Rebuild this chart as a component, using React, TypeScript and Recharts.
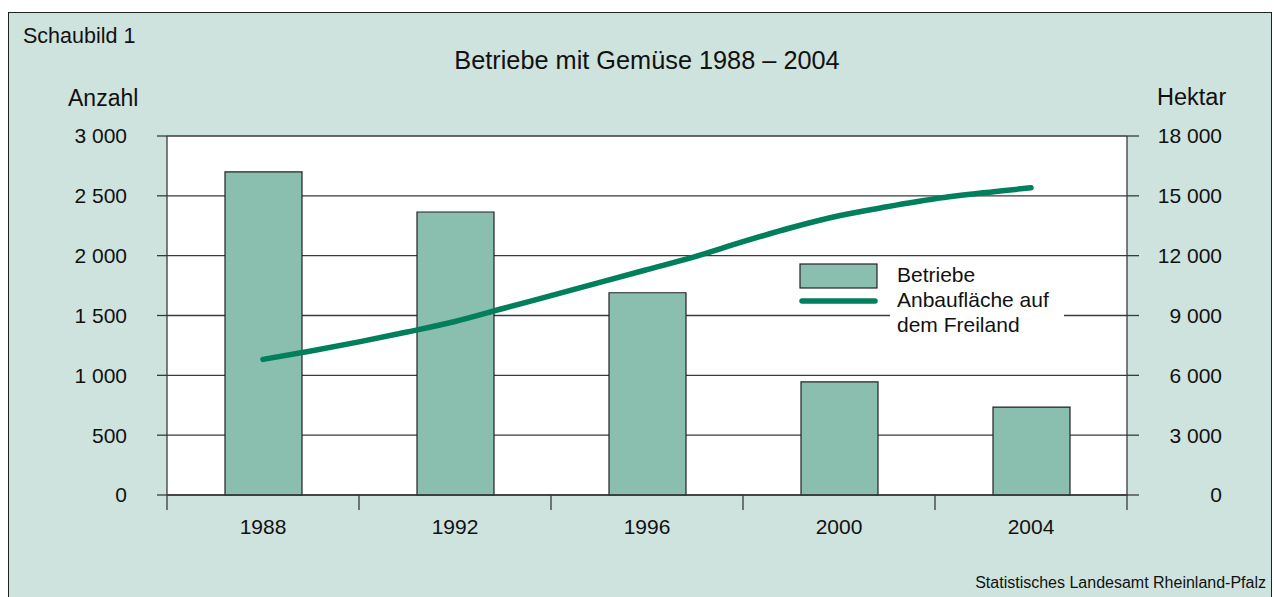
import React from 'react';
import { ComposedChart, Bar, Line, XAxis, YAxis, CartesianGrid } from 'recharts';

const barYears = [1988, 1992, 1996, 2000, 2004];
const betriebe = [2700, 2365, 1690, 945, 735];

const lineYears = [1988, 1989, 1990, 1991, 1992, 1993, 1994, 1995, 1996, 1997, 1998, 1999, 2000, 2001, 2002, 2003, 2004];
const flaeche = [6800, 7220, 7680, 8170, 8700, 9350, 10000, 10650, 11300, 11950, 12700, 13400, 14000, 14450, 14850, 15150, 15400];

const leftTicks = [0, 500, 1000, 1500, 2000, 2500, 3000];
const rightTicks = [0, 3000, 6000, 9000, 12000, 15000, 18000];
const xTicks = [1986, 1988, 1990, 1992, 1994, 1996, 1998, 2000, 2002, 2004, 2006];

const title = 'Betriebe mit Gemüse 1988 – 2004';
const figLabel = 'Schaubild 1';
const leftTitle = 'Anzahl';
const rightTitle = 'Hektar';
const source = 'Statistisches Landesamt Rheinland-Pfalz';
const legendBar = 'Betriebe';
const legendLine = ['Anbaufläche auf', 'dem Freiland'];

const barData = barYears.map((y, i) => ({ year: y, betriebe: betriebe[i] }));
const lineData = lineYears.map((y, i) => ({ year: y, flaeche: flaeche[i] }));

const FONT = '"Liberation Sans", Arial, Helvetica, sans-serif';
const BG = '#cee3dd';
const BAR = '#8abfaf';
const LINE = '#007f5c';
const INK = '#111';
const GRID = '#3a3a3a';

const fmt = (v: number) => String(v).replace(/\B(?=(\d{3})+(?!\d))/g, ' ');

const XTick = (props: any) => {
  const { x, y, payload } = props;
  const v = payload.value as number;
  if ((v - 1986) % 4 === 0) {
    return <line x1={x} x2={x} y1={y} y2={y + 15} stroke={GRID} strokeWidth={1.3} />;
  }
  return (
    <text x={x} y={y + 39} textAnchor="middle" fontSize={21} fill={INK} fontFamily={FONT}>
      {v}
    </text>
  );
};

const RightTick = (props: any) => {
  const { x, y, payload } = props;
  return (
    <text x={x + 83} y={y} dy="0.355em" textAnchor="end" fontSize={21} fill={INK} fontFamily={FONT}>
      {fmt(payload.value)}
    </text>
  );
};

export default function App() {
  return (
    <div style={{ position: 'absolute', left: 0, top: 0, width: 1275, height: 597, overflow: 'hidden' }}>
      <div
        style={{
          position: 'absolute',
          left: 8,
          top: 12,
          width: 1264,
          height: 600,
          background: BG,
          border: '1px solid #222',
          boxSizing: 'border-box',
        }}
      />
      <div style={{ position: 'absolute', left: 0, top: 0 }}>
        <ComposedChart
          width={1275}
          height={597}
          data={barData}
          margin={{ top: 136, right: 88, bottom: 42, left: 107 }}
        >
          <CartesianGrid yAxisId="left" xAxisId="num" vertical={false} horizontal stroke={GRID} strokeWidth={1.3} fill="#ffffff" fillOpacity={1} />
          <XAxis xAxisId="cat" dataKey="year" type="category" hide height={0} />
          <XAxis
            xAxisId="num"
            dataKey="year"
            type="number"
            domain={[1986, 2006]}
            ticks={xTicks}
            interval={0}
            tickSize={0}
            tickMargin={0}
            tickLine={false}
            tick={<XTick />}
            height={60}
            axisLine={{ stroke: GRID, strokeWidth: 1.3 }}
            allowDataOverflow
          />
          <YAxis
            yAxisId="left"
            orientation="left"
            domain={[0, 3000]}
            ticks={leftTicks}
            interval={0}
            width={60}
            tickSize={10}
            tickMargin={30}
            tickFormatter={fmt}
            tick={{ fontSize: 21, fill: INK, fontFamily: FONT }}
            tickLine={{ stroke: GRID, strokeWidth: 1.3 }}
            axisLine={{ stroke: GRID, strokeWidth: 1.3 }}
          />
          <YAxis
            yAxisId="right"
            orientation="right"
            domain={[0, 18000]}
            ticks={rightTicks}
            interval={0}
            width={60}
            tickSize={12}
            tickMargin={0}
            tick={<RightTick />}
            tickLine={{ stroke: GRID, strokeWidth: 1.3 }}
            axisLine={{ stroke: GRID, strokeWidth: 1.3 }}
          />
          <Bar
            xAxisId="cat"
            yAxisId="left"
            dataKey="betriebe"
            barSize={77}
            fill={BAR}
            stroke="#222"
            strokeWidth={1.2}
            isAnimationActive={false}
          />
          <Line
            xAxisId="num"
            yAxisId="right"
            data={lineData}
            dataKey="flaeche"
            type="monotone"
            stroke={LINE}
            strokeWidth={5.5}
            strokeLinecap="round"
            strokeLinejoin="round"
            dot={false}
            activeDot={false}
            isAnimationActive={false}
          />
        </ComposedChart>
      </div>
      <svg
        width={1275}
        height={597}
        style={{ position: 'absolute', left: 0, top: 0, pointerEvents: 'none' }}
        fontFamily={FONT}
      >
        <text x={23} y={43} fontSize={21.5} fill={INK}>{figLabel}</text>
        <text x={647} y={69} fontSize={25.3} fill={INK} textAnchor="middle">{title}</text>
        <text x={68} y={106} fontSize={23} fill={INK}>{leftTitle}</text>
        <text x={1157} y={105} fontSize={23.5} fill={INK}>{rightTitle}</text>
        <text x={1266} y={588} fontSize={16} fill={INK} textAnchor="end">{source}</text>
        <rect x={890} y={262} width={174} height={78} fill="#ffffff" />
        <rect x={800} y={264} width={77} height={24} fill={BAR} stroke="#222" strokeWidth={1.2} />
        <line x1={802} x2={875} y1={301} y2={301} stroke={LINE} strokeWidth={5.5} strokeLinecap="round" />
        <text x={897} y={282} fontSize={21} fill={INK}>{legendBar}</text>
        <text x={897} y={307} fontSize={21} fill={INK}>{legendLine[0]}</text>
        <text x={897} y={332} fontSize={21} fill={INK}>{legendLine[1]}</text>
      </svg>
    </div>
  );
}
